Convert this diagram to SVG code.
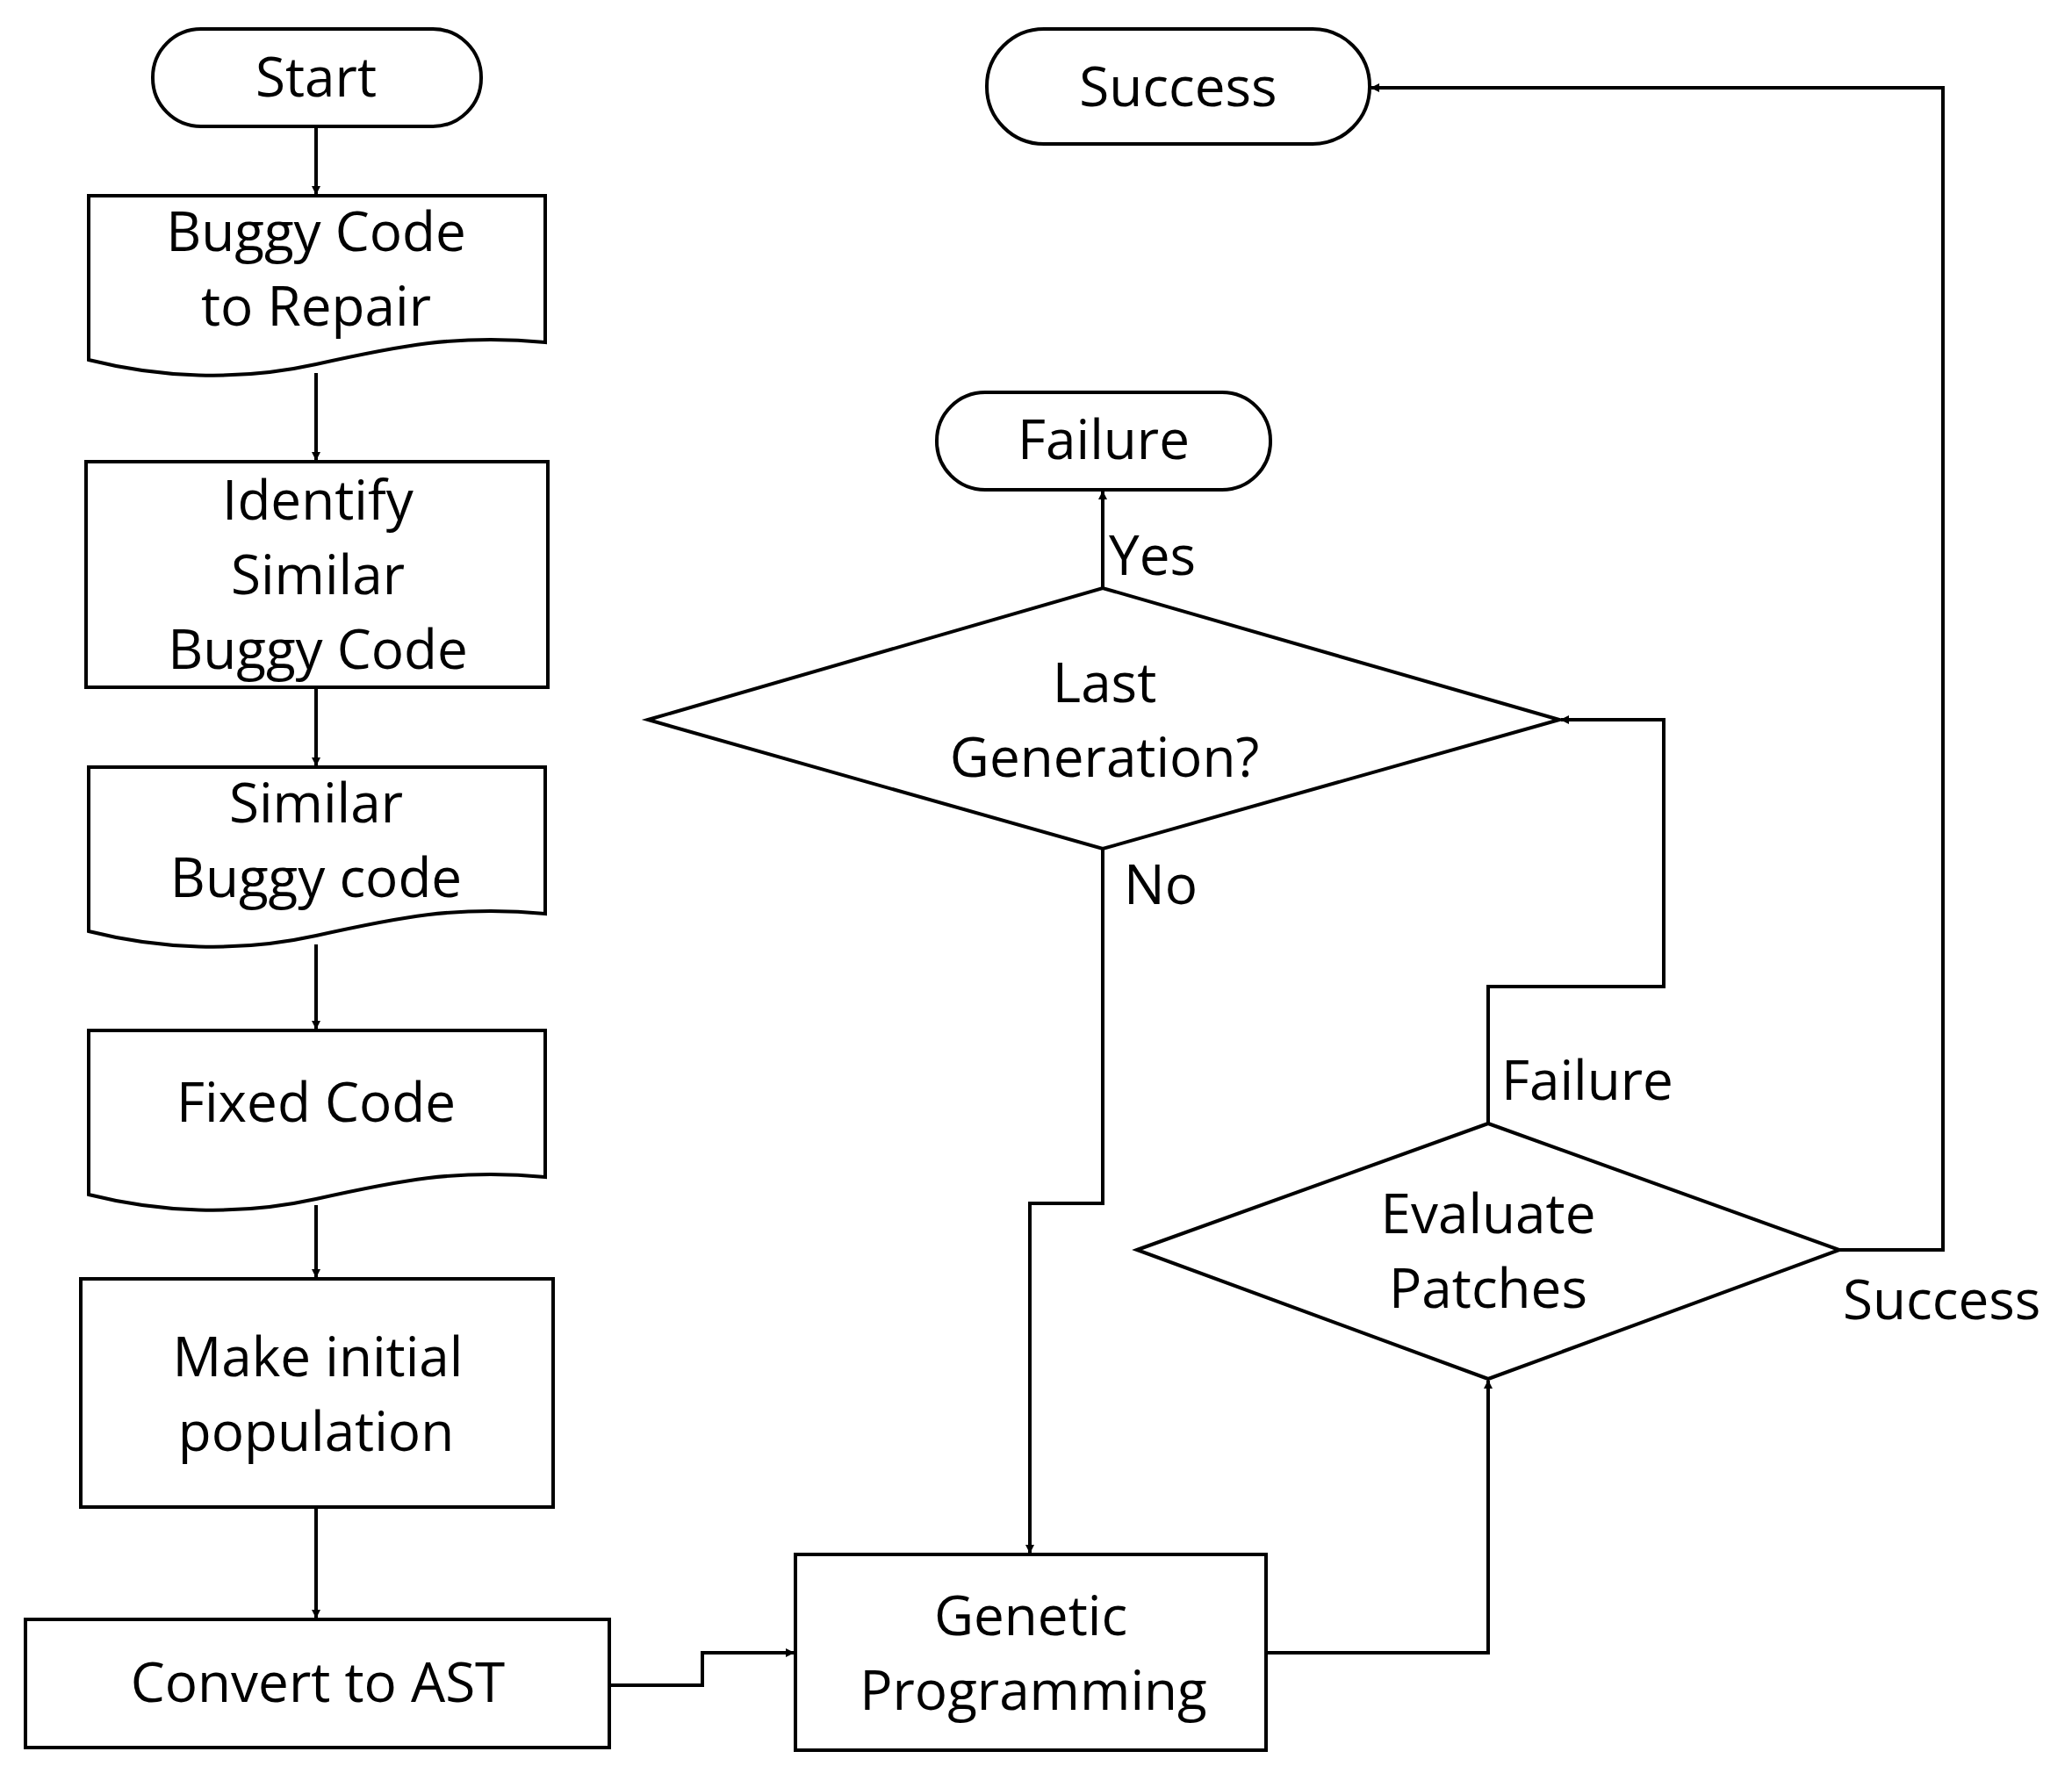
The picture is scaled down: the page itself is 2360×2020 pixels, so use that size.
<svg xmlns="http://www.w3.org/2000/svg" width="2360" height="2020" viewBox="0 0 2360 2020">
<style>
.s{fill:#fff;stroke:#000;stroke-width:4}
.c{fill:none;stroke:#000;stroke-width:4}
text{font-family:"Open Sans","Liberation Sans",sans-serif;font-size:62px;fill:#000;text-anchor:middle}
.l{text-anchor:start}
</style>
<defs><marker id="a" markerWidth="10" markerHeight="10" refX="9" refY="5" orient="auto" markerUnits="userSpaceOnUse" viewBox="0 0 10 10"><path d="M0,0L10,5L0,10z"/></marker></defs>
<rect width="2360" height="2020" fill="#fff"/>
<g id="connectors">
<line class="c" x1="360" y1="144" x2="360" y2="221" marker-end="url(#a)" style="marker-end:url(#a)"/>
<line class="c" x1="360" y1="425" x2="360" y2="524" marker-end="url(#a)"/>
<line class="c" x1="360" y1="783" x2="360" y2="872" marker-end="url(#a)"/>
<line class="c" x1="360" y1="1076" x2="360" y2="1172" marker-end="url(#a)"/>
<line class="c" x1="360" y1="1373" x2="360" y2="1455" marker-end="url(#a)"/>
<line class="c" x1="360" y1="1717" x2="360" y2="1843" marker-end="url(#a)"/>
<polyline class="c" points="694,1920 800,1920 800,1883 904,1883" marker-end="url(#a)"/>
<polyline class="c" points="1256,967 1256,1371 1173,1371 1173,1769" marker-end="url(#a)"/>
<polyline class="c" points="1442,1883 1695,1883 1695,1573" marker-end="url(#a)"/>
<polyline class="c" points="1695,1280 1695,1124 1895,1124 1895,820 1778,820" marker-end="url(#a)"/>
<polyline class="c" points="2095,1424 2213,1424 2213,100 1562,100" marker-end="url(#a)"/>
<line class="c" x1="1256" y1="670" x2="1256" y2="560" marker-end="url(#a)"/>
<text class="l" x="1263" y="655">Yes</text>
<text class="l" x="1280" y="1030">No</text>
<text class="l" x="1710" y="1253">Failure</text>
<text class="l" x="2099" y="1503">Success</text>
</g>
<g id="start"><rect class="s" x="174" y="33" width="374" height="111" rx="55"/><text x="360" y="110">Start</text></g>
<g id="buggy"><path class="s" d="M101,223H621V390C520,380 450,395 360,415C270,435 180,430 101,410Z"/><text x="360" y="286">Buggy Code</text><text x="360" y="371">to Repair</text></g>
<g id="identify"><rect class="s" x="98" y="526" width="526" height="257"/><text x="362" y="592">Identify</text><text x="362" y="677">Similar</text><text x="362" y="762">Buggy Code</text></g>
<g id="similar"><path class="s" d="M101,874H621V1041C520,1031 450,1046 360,1066C270,1086 180,1081 101,1061Z"/><text x="360" y="937">Similar</text><text x="360" y="1022">Buggy code</text></g>
<g id="fixed"><path class="s" d="M101,1174H621V1341C520,1331 450,1346 360,1366C270,1386 180,1381 101,1361Z"/><text x="360" y="1278">Fixed Code</text></g>
<g id="make"><rect class="s" x="92" y="1457" width="538" height="260"/><text x="362" y="1568">Make initial</text><text x="360" y="1653">population</text></g>
<g id="convert"><rect class="s" x="29" y="1845" width="665" height="146"/><text x="362" y="1939">Convert to AST</text></g>
<g id="genetic"><rect class="s" x="906" y="1771" width="536" height="223"/><text x="1174" y="1863">Genetic</text><text x="1177" y="1948">Programming</text></g>
<g id="evaluate"><polygon class="s" points="1295,1424 1695,1280 2095,1424 1695,1571"/><text x="1695" y="1405">Evaluate</text><text x="1695" y="1490">Patches</text></g>
<g id="lastgen"><polygon class="s" points="738,820 1256,670 1776,820 1256,967"/><text x="1258" y="800">Last</text><text x="1258" y="885">Generation?</text></g>
<g id="failure"><rect class="s" x="1067" y="447" width="380" height="111" rx="55"/><text x="1257" y="523">Failure</text></g>
<g id="success"><rect class="s" x="1124" y="33" width="436" height="131" rx="65"/><text x="1342" y="121">Success</text></g>
</svg>
